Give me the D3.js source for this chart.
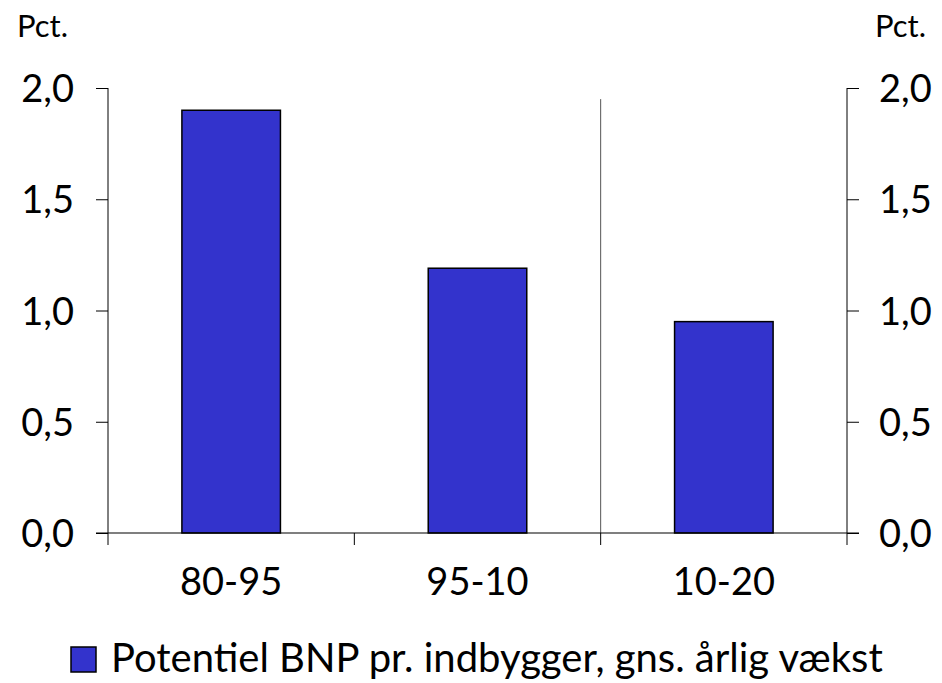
<!DOCTYPE html>
<html>
<head>
<meta charset="utf-8">
<script src="https://cdn.jsdelivr.net/npm/d3@7"></script>
<style>
  body { margin: 0; background: #fff; }
  text { font-family: Lato, "Open Sans", sans-serif; fill: #000; }
</style>
</head>
<body>
<svg id="chart" width="942" height="683"></svg>
<script>
// data
const categories = ["80-95", "95-10", "10-20"];
const values = [1.90, 1.19, 0.95];
const yTicks = [0, 0.5, 1.0, 1.5, 2.0];
const seriesName = "Potentiel BNP pr. indbygger, gns. årlig vækst";
const unitLabel = "Pct.";

const margin = { top: 88, right: 95, bottom: 150, left: 108 };
const W = 942, H = 683;
const innerW = W - margin.left - margin.right;
const innerH = H - margin.top - margin.bottom;

const svg = d3.select("#chart");
const g = svg.append("g").attr("transform", `translate(${margin.left},${margin.top})`);

const x = d3.scaleBand().domain(categories).range([0, innerW]).paddingInner(0.6).paddingOuter(0.3);
const y = d3.scaleLinear().domain([0, 2]).range([innerH, 0]);

const fmt = d => d3.format(".1f")(d).replace(".", ",");

// divider before forecast period
const xDiv = x.step() * 2;
g.append("line")
  .attr("x1", xDiv).attr("x2", xDiv)
  .attr("y1", y(1.95)).attr("y2", y(0))
  .attr("stroke", "#555").attr("stroke-width", 1);

// bars
g.selectAll(".bar")
  .data(values)
  .join("rect")
  .attr("class", "bar")
  .attr("x", (d, i) => x(categories[i]))
  .attr("width", x.bandwidth())
  .attr("y", d => y(d))
  .attr("height", d => y(0) - y(d))
  .attr("fill", "#3333CC")
  .attr("stroke", "#000")
  .attr("stroke-width", 1.5);

// left and right axes
const left = g.append("g")
  .call(d3.axisLeft(y).tickValues(yTicks).tickFormat(fmt).tickSize(12).tickPadding(22));
const right = g.append("g").attr("transform", `translate(${innerW},0)`)
  .call(d3.axisRight(y).tickValues(yTicks).tickFormat(fmt).tickSize(12).tickPadding(20));
[left, right].forEach(a => {
  a.select(".domain").attr("d", `M0,${innerH}V0`).attr("stroke", "#000");
  a.selectAll(".tick line").attr("stroke", "#000");
  a.selectAll("text").style("font-size", "38px").attr("dy", "0.36em");
});

// bottom axis: baseline with category separators
const bottom = g.append("g").attr("transform", `translate(0,${innerH})`);
bottom.append("line")
  .attr("x1", -12).attr("x2", innerW + 12)
  .attr("stroke", "#000").attr("stroke-width", 1.2);
bottom.selectAll(".sep")
  .data(d3.range(categories.length + 1))
  .join("line")
  .attr("x1", i => i * x.step()).attr("x2", i => i * x.step())
  .attr("y1", 0).attr("y2", 12)
  .attr("stroke", "#000");
bottom.selectAll(".cat")
  .data(categories)
  .join("text")
  .attr("x", d => x(d) + x.bandwidth() / 2)
  .attr("y", 62)
  .attr("text-anchor", "middle")
  .style("font-size", "38px")
  .text(d => d);

// unit labels
svg.append("text").attr("x", 17).attr("y", 37).style("font-size", "31px").text(unitLabel);
svg.append("text").attr("x", 926).attr("y", 37).attr("text-anchor", "end").style("font-size", "31px").text(unitLabel);

// legend
const leg = svg.append("g").attr("transform", "translate(71,647)");
leg.append("rect").attr("width", 25).attr("height", 25)
  .attr("fill", "#3333CC").attr("stroke", "#000").attr("stroke-width", 1.5);
leg.append("text").attr("x", 40).attr("y", 25).style("font-size", "40px").text(seriesName);
</script>
</body>
</html>
